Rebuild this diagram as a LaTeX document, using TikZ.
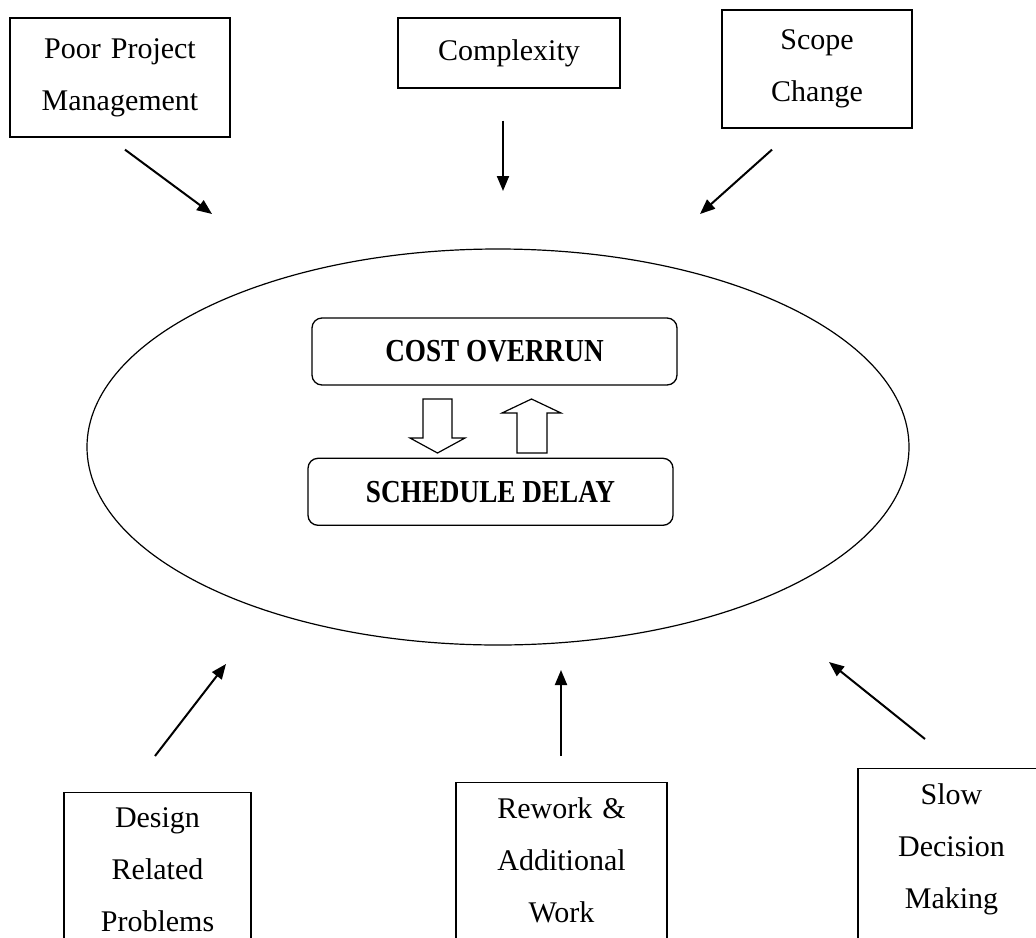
\documentclass[tikz,border=0pt]{standalone}
\usepackage{fontspec}
\setmainfont{Liberation Serif}
\newfontfamily\algfont[FakeStretch=0.85]{Liberation Serif}
\usetikzlibrary{arrows.meta, positioning, shapes.geometric}
\tikzset{
  causebox/.style = {draw=black, line width=1.3pt, align=center,
    inner xsep=0pt, font=\fontsize{30}{52}\selectfont},
  corebox/.style = {draw=black, line width=1.3pt, rounded corners=10pt,
    minimum width=365pt, minimum height=67pt,
    font=\algfont\bfseries\fontsize{32}{36}\selectfont},
  cause/.style = {-{Triangle[length=15pt, width=12pt]}, line width=2pt},
  blockarrow/.style = {draw=black, line width=1.2pt, fill=white}
}

\begin{document}
\begin{tikzpicture}[x=1pt, y=-1pt]
\useasboundingbox (0,0) rectangle (1036,937);
\clip (0,0) rectangle (1036,937);

% what goes in
\node [causebox, text width=220pt, minimum height=119pt] (ppm) at (120,77.5) {Poor Project\\Management};
\node [causebox, text width=222pt, minimum height=70pt] (cplx) at (509,53) {Complexity};
\node [causebox, text width=190pt, minimum height=118pt] (scope) at (817,69) {Scope\\Change};

\node [causebox, text width=187pt, inner ysep=15pt, anchor=north] (design) at (157.5,792) {Design\\Related\\Problems\\~};
\node [causebox, text width=211pt, inner ysep=15pt, anchor=north] (rework) at (561.5,782) {Rework \&\\Additional\\Work\\~};
\node [causebox, text width=187pt, inner ysep=15pt, anchor=north] (slow) at (951.5,768) {Slow\\Decision\\Making\\~};

% the big ellipse
\node [draw, ellipse, line width=1.2pt, minimum width=822pt, minimum height=396pt] (impact) at (498,447) {};

\node [corebox] (cost) at (494.5,351.5) {COST OVERRUN};
\node [corebox, below=72pt of cost, xshift=-4pt] (sched) {SCHEDULE DELAY};

% two way arrows
\draw [blockarrow] (423,399) -- ++(29,0) -- ++(0,39) -- ++(13,0) -- ++(-27.5,15) -- ++(-27.5,-15) -- ++(13,0) -- cycle;
\draw [blockarrow] (517,453) -- ++(30,0) -- ++(0,-40) -- ++(14,0) -- ++(-29.5,-14) -- ++(-29.5,14) -- ++(15,0) -- cycle;

\coordinate (ppmtail) at ([shift={(5,12)}]ppm.south);
\coordinate (ppmtip) at (212,214);
\coordinate (cplxtail) at ([shift={(-6,32)}]cplx.south);
\coordinate (cplxtip) at (503,191);
\coordinate (scopetail) at ([shift={(-45,21)}]scope.south);
\coordinate (scopetip) at (700,214);
\coordinate (designtail) at (155,756);
\coordinate (designtip) at (226,664);
\coordinate (reworktail) at (561,756);
\coordinate (reworktip) at (561,670);
\coordinate (slowtail) at (925,739);
\coordinate (slowtip) at (829,662);

\draw [cause] (ppmtail) -- (ppmtip);
\draw [cause] (cplxtail) -- (cplxtip);
\draw [cause] (scopetail) -- (scopetip);
\draw [cause] (designtail) -- (designtip);
\draw [cause] (reworktail) -- (reworktip);
\draw [cause] (slowtail) -- (slowtip);
\end{tikzpicture}
\end{document}
